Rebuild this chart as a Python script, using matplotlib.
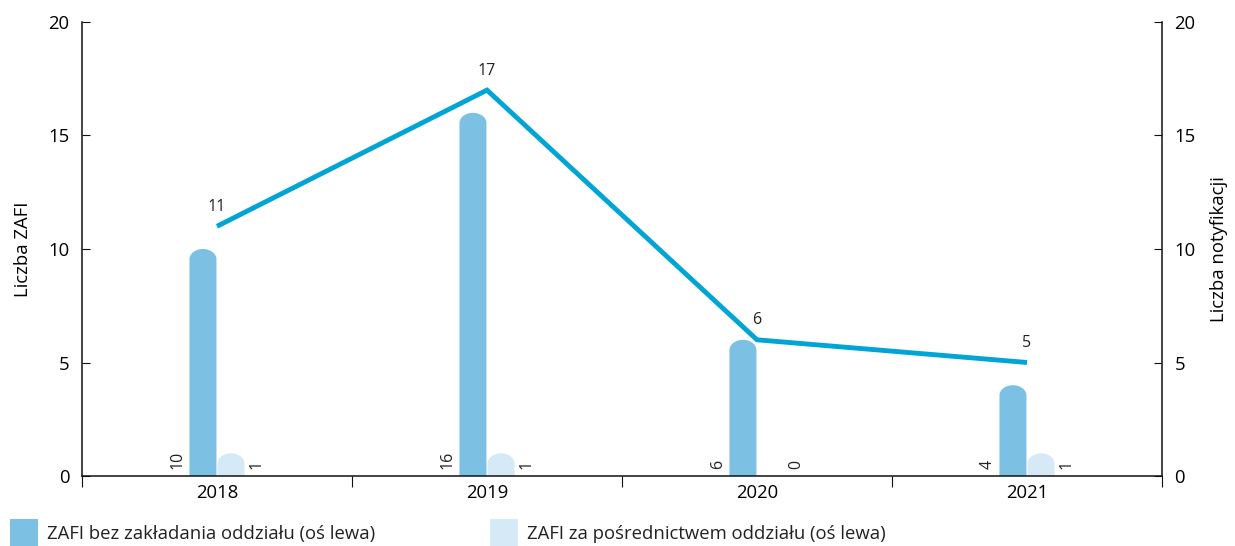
import matplotlib
matplotlib.use("Agg")
import matplotlib.pyplot as plt
import numpy as np
from matplotlib.path import Path
from matplotlib.patches import PathPatch, Rectangle

plt.rcParams['font.family'] = ['Open Sans', 'DejaVu Sans']

years = ["2018", "2019", "2020", "2021"]
zafi_bez = [10, 16, 6, 4]
zafi_oddzial = [1, 1, 0, 1]
notyfikacje = [11, 17, 6, 5]

series_names = ["ZAFI bez zakładania oddziału (oś lewa)",
                "ZAFI za pośrednictwem oddziału (oś lewa)"]
c_dark = "#7cc0e4"
c_light = "#d6e9f7"
c_line = "#00a5d6"

fig = plt.figure(figsize=(12.35, 5.46), dpi=100)
ax = fig.add_axes([82/1235, 1-476/546, (1162-82)/1235, (476-22)/546])
ax2 = ax.twinx()

x = np.arange(len(years))
w = 0.1


def rounded_bar(axis, xl, width, h, color, cap=0.45):
    if h <= 0:
        return
    cap = min(cap, h)
    top = h
    sh = h - cap
    k = 0.55
    verts = [(xl, 0), (xl, sh),
             (xl, sh + cap * k), (xl + width * 0.5 * (1 - k), top), (xl + width / 2, top),
             (xl + width * (1 - 0.5 * (1 - k)), top), (xl + width, sh + cap * k), (xl + width, sh),
             (xl + width, 0), (xl, 0)]
    codes = [Path.MOVETO, Path.LINETO,
             Path.CURVE4, Path.CURVE4, Path.CURVE4,
             Path.CURVE4, Path.CURVE4, Path.CURVE4,
             Path.LINETO, Path.CLOSEPOLY]
    axis.add_patch(PathPatch(Path(verts, codes), facecolor=color,
                             edgecolor="none", zorder=2))


for i in range(len(years)):
    rounded_bar(ax, x[i] - w - 0.002, w, zafi_bez[i], c_dark)
    rounded_bar(ax, x[i] + 0.002, w, zafi_oddzial[i], c_light)
    ax.text(x[i] - w - 0.045, 0.3, str(zafi_bez[i]), rotation=90,
            ha="center", va="bottom", fontsize=11.5, color="#222222")
    ax.text(x[i] + w + 0.045, 0.3, str(zafi_oddzial[i]), rotation=90,
            ha="center", va="bottom", fontsize=11.5, color="#222222")

ax2.plot(x, notyfikacje, color=c_line, lw=3.5, solid_capstyle="butt",
         solid_joinstyle="miter", zorder=3)
for xi, v in zip(x, notyfikacje):
    ax2.text(xi, v + 0.5, str(v), ha="center", va="bottom", fontsize=11.5,
             color="#222222")

for a in (ax, ax2):
    a.set_xlim(-0.5, 3.5)
    a.set_ylim(0, 20)
    a.set_yticks([0, 5, 10, 15, 20])
    a.spines["top"].set_visible(False)
    for s in a.spines.values():
        s.set_color("#111111")
        s.set_linewidth(1.1)

ax.spines["right"].set_visible(False)
ax2.spines["left"].set_visible(False)
ax2.spines["bottom"].set_visible(False)

ax.tick_params(axis="y", direction="in", length=6, labelsize=13.3, pad=9,
               color="#111111")
ax2.tick_params(axis="y", direction="in", length=6, labelsize=13.3, pad=9,
                color="#111111")
ax.set_xticks(np.arange(-0.5, 4.0, 1.0), minor=False)
ax.set_xticklabels([])
ax.tick_params(axis="x", which="major", direction="out", length=8,
               color="#111111")
ax.set_xticks(x, minor=True)
ax.set_xticklabels(years, minor=True)
ax.tick_params(axis="x", which="minor", length=0, labelsize=13.3, pad=6)

ax.set_ylabel("Liczba ZAFI", fontsize=13.3, labelpad=12)
ax2.set_ylabel("Liczba notyfikacji", fontsize=13.3, labelpad=10)

# legend
for lx, name, col in [(10, series_names[0], c_dark), (490, series_names[1], c_light)]:
    fig.patches.append(Rectangle((lx/1235, 0), 28/1235, 27/546,
                                 transform=fig.transFigure, facecolor=col,
                                 edgecolor="none"))
    fig.text((lx + 37)/1235, 12/546, name, fontsize=13.3, va="center",
             ha="left", color="#222222")

fig.savefig("out.png", dpi=100)
